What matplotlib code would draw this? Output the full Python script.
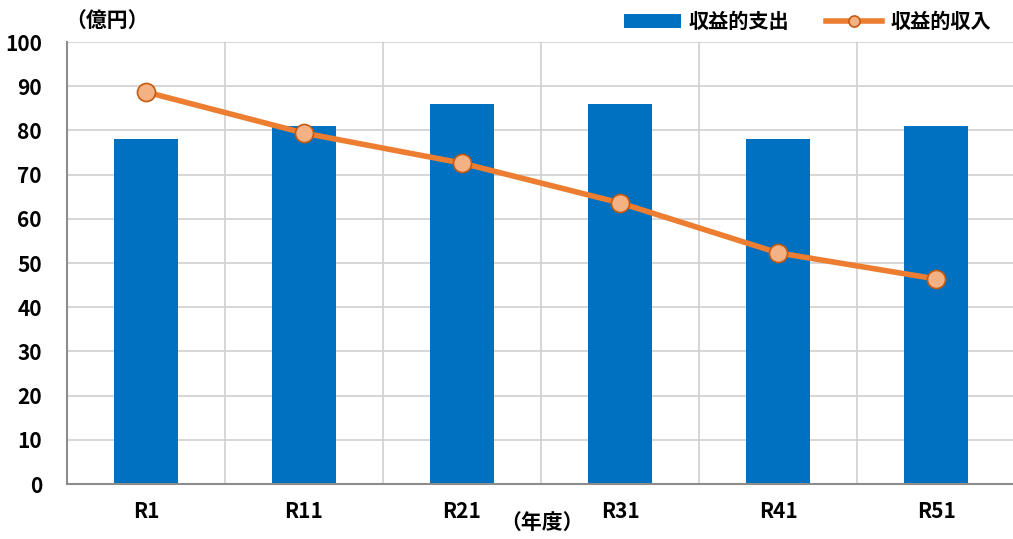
import matplotlib
matplotlib.use("Agg")
from matplotlib import pyplot as plt
import numpy as np

plt.rcParams['font.family'] = ['Noto Sans CJK JP', 'DejaVu Sans']
plt.rcParams['font.weight'] = 'bold'

years = ["R1", "R11", "R21", "R31", "R41", "R51"]
expense = [78, 81, 86, 86, 78, 81]       # 収益的支出
income = [88.7, 79.4, 72.6, 63.6, 52.3, 46.4]  # 収益的収入

fig = plt.figure(figsize=(10.13, 5.39), dpi=100)
ax = fig.add_axes([0.0661, 0.102, 0.936, 0.820])

x = np.arange(len(years))
bars = ax.bar(x, expense, width=0.405, color="#0070C0", zorder=2, label="収益的支出")
line, = ax.plot(x, income, color="#ED7D31", linewidth=4, marker="o", markersize=13,
                markerfacecolor="#F4B183", markeredgecolor="#C55A11", markeredgewidth=1.2,
                zorder=3, label="収益的収入")

ax.set_xlim(-0.5, len(years) - 0.5)
ax.set_ylim(0, 100)
ax.set_yticks(range(0, 101, 10))
ax.set_xticks(x)
ax.set_xticklabels(years)
ax.set_xticks(np.arange(0.5, len(years) - 0.5, 1), minor=True)

ax.grid(axis="y", color="#D0D0D0", linewidth=1.2, zorder=0)
ax.grid(axis="x", which="minor", color="#D0D0D0", linewidth=1.2, zorder=0)
ax.tick_params(axis="both", which="both", length=0, labelsize=15)
ax.tick_params(axis="x", pad=12)
ax.tick_params(axis="y", pad=18)

for s in ["top", "right"]:
    ax.spines[s].set_visible(False)
for s in ["left", "bottom"]:
    ax.spines[s].set_color("#8C8C8C")
    ax.spines[s].set_linewidth(1.5)

fig.text(0.064, 0.962, "（億円）", fontsize=15, fontweight="bold", ha="left", va="center")
fig.text(0.535, 0.031, "（年度）", fontsize=15, fontweight="bold", ha="center", va="center")

leg = ax.legend([bars, line], ["収益的支出", "収益的収入"], loc="lower right",
                bbox_to_anchor=(0.985, 1.0), ncol=2, frameon=False,
                fontsize=14.5, handlelength=2.8, columnspacing=1.8, handletextpad=0.4,
                borderaxespad=0.1)
leg.legend_handles[1].set_markersize(8)

fig.savefig("out.png", dpi=100)
